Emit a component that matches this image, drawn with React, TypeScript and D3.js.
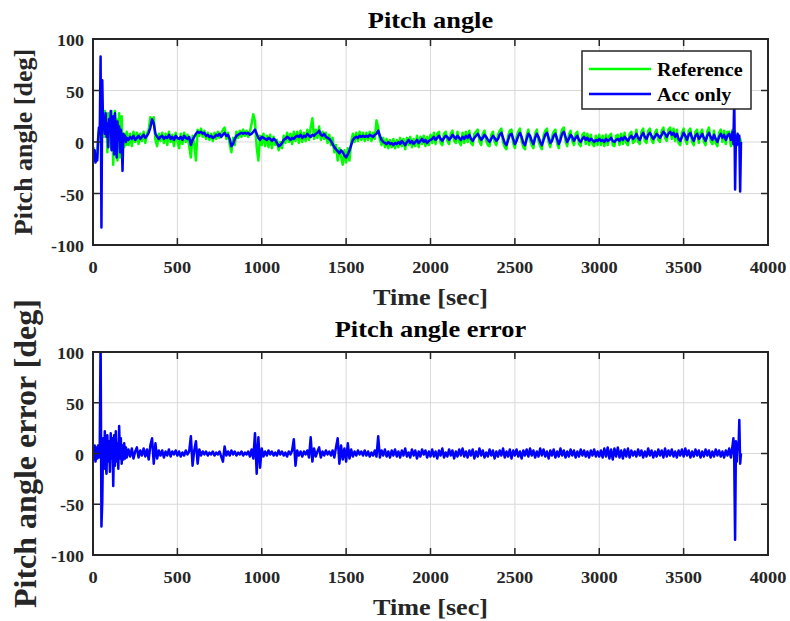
import React from 'react';
import * as d3 from 'd3';

// ---------- data ----------
const X_TICKS = [0, 500, 1000, 1500, 2000, 2500, 3000, 3500, 4000];
const Y_TICKS = [-100, -50, 0, 50, 100];

// sampling instants [sec]
const TIME_EARLY = d3.range(0, 201, 5); // 41 samples
const TIME_MID = d3.range(210, 3761, 10); // 356 samples
const TIME_END = [3770, 3780, 3790, 3795, 3800, 3805, 3810, 3815, 3820, 3825, 3830, 3835, 3840];
const TIME = [...TIME_EARLY, ...TIME_MID, ...TIME_END];

const REF_EARLY = [
  -5, -15, -10, -18, -12, -15, 0, 10, 8, 12,
  15, 10, 20, 5, 30, 12, 25, -10, 28, 8,
  20, -5, 30, 10, -22, 15, 30, 0, 22, -18,
  12, 28, -15, 10, 25, -10, 5, -5, 8, -3,
  10,
];
const REF_MID = [
  -3, 8, -4, 10, 0, 9, -2, 8, 1, 10, -1, 8, 12, 24, 20, 24, 2, -4, 8, 1,
  9, -1, 8, -3, 10, 0, 7, -4, 9, 1, -6, 8, -2, 9, 0, 7, -4, -15, 6, -2,
  -18, 12, 6, 13, 5, 11, 3, 9, 2, 8, 1, 9, 3, 10, 4, 8, 12, 14, 3, 9,
  -2, -10, 4, -3, 10, 4, 11, 5, 12, 6, 11, 5, 10, 18, 27, 20, -5, -18, 6, -3,
  8, -4, 6, -5, 7, -6, 5, -3, 2, -8, 0, -6, 6, -1, 9, 0, 8, -2, 10, 1,
  10, -1, 11, 0, 9, 1, 12, 2, 14, 23, 3, 12, 4, 15, 2, 10, 3, 9, -1, 7,
  -3, 4, -10, -3, -18, -6, -14, -22, -8, -20, -6, -18, 0, 8, 0, 9, 1, 10, 2, 9,
  1, 9, 2, 10, 1, 9, 3, 21, 14, 2, -3, 4, -5, 3, -6, 2, -5, 3, -6, 2,
  -5, 4, -4, 3, -7, 4, -3, 5, -5, 3, -4, 6, -5, 5, -2, 6, -4, 5, -3, 7,
  -1, 9, -2, 8, 10, -1, -3, 8, 10, 1, -2, 8, 11, 1, -1, 10, 0, -3, 9, -1,
  10, 0, 11, -1, -3, 8, 10, 12, 1, -3, 8, 11, 1, -3, -4, 7, 10, 0, -3, 7,
  11, 13, 0, -5, -7, 6, 11, 12, -1, -6, 5, 10, 13, 1, -5, -7, 7, 12, 2, -3,
  -6, 8, 12, 1, -4, -7, 6, 11, 13, 0, -5, 5, 10, 12, -1, -6, 6, 12, 14, 1,
  -4, 7, 11, 1, -3, 8, 10, -2, -4, 7, 9, -2, 8, -3, 7, -2, -4, 6, -3, 7,
  -3, 6, -4, 7, -3, 6, 8, -3, -4, 6, 7, -3, 8, -2, 9, -1, -3, 8, 10, -1,
  1, 12, 0, -2, 10, 13, 1, -1, 11, 13, 2, -1, 9, 12, 2, 0, 11, 14, 4, 1,
  12, 14, 3, 13, 1, 12, -1, -3, 9, 13, 2, -2, 11, 13, 0, -3, 10, 12, -1, 9,
  12, 0, -3, 10, 14, 1, -2, 11, -1, -4, 9, 12, 0, 11, -2, 10,
];
const REF_END = [10, -4, 12, 8, -3, 10, -5, 6, -2, 5, 0, 3, 0];

const ACC_EARLY = [
  -5, -18, -8, -20, -12, -18, 2, 14, 10, 83,
  -83, 60, 12, 25, 8, 28, 5, 18, -5, 22,
  10, 30, -8, 15, 25, -12, 28, 5, -15, 20,
  2, 15, -10, 12, 0, -28, 8, 2, 6, 0,
  4,
];
const ACC_MID = [
  2, 5, 3, 6, 2, 4, 6, 3, 5, 7, 4, 6, 9, 14, 22, 18, 8, 5, 3, 5,
  6, 3, 5, 4, 7, 3, 5, 2, 6, 4, 3, 5, 2, 6, 4, 3, 5, -3, 2, 5,
  8, 10, 9, 10, 8, 9, 6, 7, 5, 6, 4, 5, 7, 6, 8, 5, 7, 9, 6, 7,
  3, -4, -2, 3, 6, 7, 8, 9, 8, 9, 8, 9, 7, 8, 10, 12, 8, 4, 2, 5,
  4, 3, 2, 4, 3, 1, 3, 2, -1, -4, -3, -1, 2, 3, 5, 4, 2, 4, 3, 5,
  6, 5, 7, 4, 6, 5, 8, 6, 5, 7, 6, 8, 9, 11, 7, 6, 8, 5, 4, 3,
  1, -2, -5, -7, -9, -11, -8, -10, -13, -15, -12, -8, -3, 2, 4, 5, 4, 6, 5, 6,
  5, 6, 5, 7, 6, 5, 7, 8, 11, 6, 2, 0, -1, -2, 0, -2, -1, -3, -1, -2,
  0, -2, 1, -1, -3, 0, 2, -1, 1, -2, 0, 2, -1, 1, 3, 0, 2, -1, 1, 2,
  3, 5, 2, 4, 6, 3, 1, 4, 6, 5, 2, 4, 7, 5, 3, 6, 4, 2, 5, 3,
  6, 4, 7, 3, 1, 4, 6, 8, 5, 2, 4, 7, 5, 2, 0, 3, 6, 4, 1, 3,
  7, 9, 4, -1, -3, 2, 7, 8, 3, -2, 1, 6, 9, 5, -1, -3, 3, 8, 6, 1,
  -2, 4, 8, 5, 0, -3, 2, 7, 9, 4, -1, 1, 6, 8, 3, -2, 2, 8, 10, 5,
  0, 3, 7, 5, 1, 4, 6, 2, 0, 3, 5, 2, 4, 1, 3, 2, 0, 2, 1, 3,
  1, 2, 0, 3, 1, 2, 4, 1, 0, 2, 3, 1, 4, 2, 5, 3, 1, 4, 6, 3,
  5, 8, 4, 2, 6, 9, 5, 3, 7, 9, 6, 3, 5, 8, 6, 4, 7, 10, 8, 5,
  8, 10, 7, 9, 5, 8, 3, 1, 5, 9, 6, 2, 7, 9, 4, 1, 6, 8, 3, 5,
  8, 4, 1, 6, 9, 5, 2, 7, 3, 0, 5, 8, 4, 7, 2, 6,
];
const ACC_END = [8, 2, 10, -2, 45, -46, 5, -3, 8, -2, 6, -48, 0];

const ERR_EARLY = [
  5, -6, 8, -8, 6, -5, 8, -4, 6, 115,
  -72, -47, 15, -15, 22, -10, -20, 18, -8, 12,
  -18, 20, -5, 15, -32, 18, -12, 22, -8, 10,
  -15, 27, -5, 15, -10, 8, -6, 10, -5, 6,
  -4,
];
const ERR_MID = [
  4, -3, 5, -5, 2, 6, -4, 3, -2, 5, -3, 4, -6, 8, 15, -10, 10, -5, 3, -2,
  3, -4, 2, -2, 4, -3, 2, -1, 3, -2, 2, -3, 1, -2, 3, -1, 2, 17, -12, 3,
  12, -10, 4, -2, 2, -1, 2, -2, 1, -1, 2, -2, 1, -1, 2, -3, -8, 7, -2, 2,
  -2, 3, -1, 2, -2, 1, -1, 2, -2, 1, -1, 2, -3, 4, -5, 20, -20, 16, -14, 5,
  -3, 2, -2, 3, -1, 2, -2, 1, -2, 3, -1, 2, -2, 1, -3, 2, -1, 3, 14, -12,
  3, -2, 2, -3, 2, -1, 3, -4, 16, -8, 5, -3, 2, 6, -4, 2, -2, 3, -1, 2,
  -2, 3, -4, 6, 15, -10, 8, -6, 5, -8, 10, -5, 4, -3, 2, -2, 3, -1, 2, -2,
  3, -2, 2, -3, 1, -2, 3, -3, 17, -4, 3, -2, 4, -3, 2, -4, 3, -2, 4, -3,
  2, -4, 3, -2, 5, -3, 1, -4, 4, -2, 3, -5, 2, -3, 4, -1, 3, -4, 2, -3,
  4, -3, 2, -5, 3, -2, 5, -4, 1, -3, 4, -2, 3, -5, 2, -3, 4, -2, 5, -3,
  2, -4, 3, -2, 4, -5, 2, -3, 5, -2, 3, -4, 1, -3, 4, -2, 3, -5, 2, -3,
  3, -2, 5, -4, 2, -3, 4, -5, 3, -2, 4, -3, 2, -5, 3, -2, 4, -3, 5, -2,
  3, -4, 2, -3, 5, -2, 4, -3, 2, -5, 3, -2, 4, -4, 2, -3, 5, -2, 3, -4,
  2, -3, 4, -2, 3, -4, 2, -3, 4, -2, 3, -3, 2, -4, 3, -2, 4, -3, 2, -3,
  3, -4, 5, -3, 6, -5, 4, -6, 5, -3, 6, -4, 3, -5, 4, -3, 5, -4, 3, -2,
  2, -3, 4, -2, 3, -4, 2, -3, 5, -2, 3, -4, 2, -3, 4, -2, 3, -4, 5, -3,
  3, -2, 4, -3, 2, -4, 3, -2, 4, -3, 5, -2, 3, -4, 2, -3, 4, -2, 3, -4,
  2, -3, 4, -2, 3, -4, 2, -3, 4, -2, 3, -3, 2, -4, 3, -2,
];
const ERR_END = [5, -4, 8, 15, -6, -85, 12, -8, 10, 4, 33, -10, 0];

const REFERENCE = [...REF_EARLY, ...REF_MID, ...REF_END];
const ACC_ONLY = [...ACC_EARLY, ...ACC_MID, ...ACC_END];
const PITCH_ERROR = [...ERR_EARLY, ...ERR_MID, ...ERR_END];

const LEGEND_LABELS = ['Reference', 'Acc only'];

// ---------- drawing ----------
const FONT = "'Liberation Serif', 'Times New Roman', serif";
const GREEN = '#00ff00';
const BLUE = '#0000ff';
const AXIS = '#262626';

type TxtProps = {
  x: number; y: number; size: number; sx?: number; anchor?: string;
  rotate?: number; fill?: string; children: React.ReactNode;
};
const Txt = ({ x, y, size, sx = 1, anchor = 'middle', rotate = 0, fill = AXIS, children }: TxtProps) => (
  <text
    transform={`translate(${x},${y}) rotate(${rotate}) scale(${sx},1)`}
    fontFamily={FONT}
    fontWeight="bold"
    fontSize={size}
    textAnchor={anchor}
    fill={fill}
  >
    {children}
  </text>
);

type Series = { values: number[]; color: string };

const Panel = ({
  id, top, bottom, series, title, titleY, ylabel, ylabelSize, ylabelX, xlabelY, legend,
}: {
  id: string; top: number; bottom: number; series: Series[]; title: string; titleY: number;
  ylabel: string; ylabelSize: number; ylabelX: number; xlabelY: number; legend?: boolean;
}) => {
  const left = 93, right = 768;
  const x = d3.scaleLinear().domain([0, 4000]).range([left, right]);
  const y = d3.scaleLinear().domain([-100, 100]).range([bottom, top]);
  const line = d3
    .line<[number, number]>()
    .x((d) => x(d[0]))
    .y((d) => y(d[1]));
  const tick = 7;
  const cx = (left + right) / 2;
  return (
    <g>
      <defs>
        <clipPath id={id}>
          <rect x={left} y={top} width={right - left} height={bottom - top} />
        </clipPath>
      </defs>
      <rect x={left} y={top} width={right - left} height={bottom - top} fill="#fff" />
      {X_TICKS.slice(1, -1).map((t) => (
        <line key={'gx' + t} x1={x(t)} x2={x(t)} y1={top} y2={bottom} stroke="#d9d9d9" strokeWidth={1} />
      ))}
      {Y_TICKS.slice(1, -1).map((t) => (
        <line key={'gy' + t} x1={left} x2={right} y1={y(t)} y2={y(t)} stroke="#d9d9d9" strokeWidth={1} />
      ))}
      <g clipPath={`url(#${id})`}>
        {series.map((s, i) => (
          <path
            key={i}
            d={line(d3.zip(TIME, s.values) as [number, number][]) || ''}
            fill="none"
            stroke={s.color}
            strokeWidth={2.5}
            strokeLinejoin="round"
          />
        ))}
      </g>
      <rect x={left} y={top} width={right - left} height={bottom - top} fill="none" stroke={AXIS} strokeWidth={2} />
      {X_TICKS.map((t) => (
        <g key={'tx' + t}>
          <line x1={x(t)} x2={x(t)} y1={bottom} y2={bottom - tick} stroke={AXIS} strokeWidth={1.5} />
          <line x1={x(t)} x2={x(t)} y1={top} y2={top + tick} stroke={AXIS} strokeWidth={1.5} />
          <Txt x={x(t)} y={bottom + 28} size={17} sx={1.08}>{t}</Txt>
        </g>
      ))}
      {Y_TICKS.map((t) => (
        <g key={'ty' + t}>
          <line x1={left} x2={left + tick} y1={y(t)} y2={y(t)} stroke={AXIS} strokeWidth={1.5} />
          <line x1={right} x2={right - tick} y1={y(t)} y2={y(t)} stroke={AXIS} strokeWidth={1.5} />
          <Txt x={84} y={y(t) + 7} size={17} sx={1.06} anchor="end">{t}</Txt>
        </g>
      ))}
      <Txt x={cx} y={titleY} size={24} sx={1.1} fill="#000">{title}</Txt>
      <Txt x={cx} y={xlabelY} size={24} sx={1.09}>Time [sec]</Txt>
      <Txt x={ylabelX} y={(top + bottom) / 2} size={ylabelSize} rotate={-90}>{ylabel}</Txt>
      {legend && (
        <g>
          <rect x={582} y={51} width={169} height={58} fill="#fff" stroke={AXIS} strokeWidth={1.5} />
          {LEGEND_LABELS.map((lab, i) => (
            <g key={lab}>
              <line x1={589} x2={651} y1={69 + i * 25} y2={69 + i * 25} stroke={series[i].color} strokeWidth={2.5} />
              <Txt x={657} y={76 + i * 25} size={19} sx={1.06} anchor="start" fill="#000">{lab}</Txt>
            </g>
          ))}
        </g>
      )}
    </g>
  );
};

export default function App() {
  return (
    <svg
      width={790}
      height={621}
      style={{ position: 'absolute', left: 0, top: 0, background: '#fff' }}
    >
      <rect width={790} height={621} fill="#fff" />
      <Panel
        id="clipTop"
        top={39}
        bottom={245}
        series={[{ values: REFERENCE, color: GREEN }, { values: ACC_ONLY, color: BLUE }]}
        title="Pitch angle"
        titleY={28}
        ylabel="Pitch angle [deg]"
        ylabelSize={26}
        ylabelX={32}
        xlabelY={305}
        legend
      />
      <Panel
        id="clipBottom"
        top={352}
        bottom={555}
        series={[{ values: PITCH_ERROR, color: BLUE }]}
        title="Pitch angle error"
        titleY={337}
        ylabel="Pitch angle error [deg]"
        ylabelSize={32}
        ylabelX={36}
        xlabelY={615}
      />
    </svg>
  );
}
